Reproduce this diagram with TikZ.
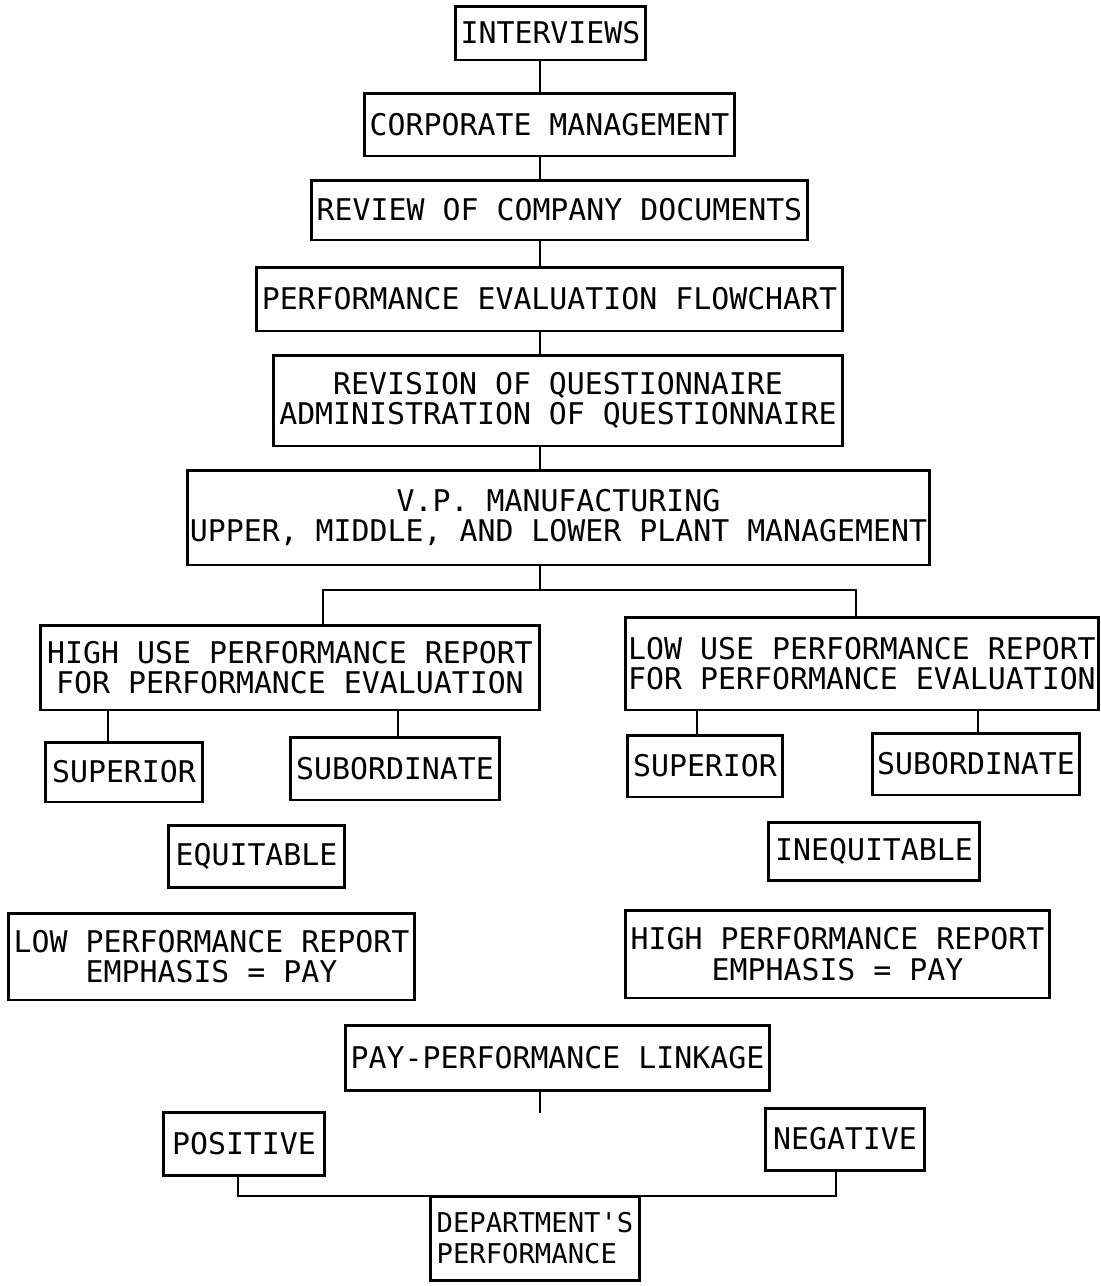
\documentclass[tikz,border=0pt]{standalone}
\usepackage{fontspec}
\setmonofont{DejaVu Sans Mono}
\begin{document}
\begin{tikzpicture}[x=0.02cm, y=-0.02cm,
    blk/.style={draw, line width=1.7pt, inner sep=0pt, align=center,
        font=\ttfamily\fontsize{17}{17.5}\selectfont},
    wire/.style={line width=1.4pt}]
\useasboundingbox (0,0) rectangle (1100,1286);
% spine of the chart
\coordinate (sp) at (540,0);
\node[blk, minimum width=3.82cm, minimum height=1.08cm] (intv) at (550.5,33) {INTERVIEWS};
\node[blk, minimum width=7.42cm, minimum height=1.26cm] (corp) at (549.5,124.5) {CORPORATE MANAGEMENT};
\node[blk, minimum width=9.94cm, minimum height=1.2cm] (docs) at (559.5,210) {REVIEW OF COMPANY DOCUMENTS};
\node[blk, minimum width=11.74cm, minimum height=1.28cm] (flow) at (549.5,299) {PERFORMANCE EVALUATION FLOWCHART};
\node[blk, minimum width=11.4cm, minimum height=1.82cm] (quest) at (558,400.5) {REVISION OF QUESTIONNAIRE\\ADMINISTRATION OF QUESTIONNAIRE};
\node[blk, minimum width=14.86cm, minimum height=1.9cm] (vp) at (558.5,517.5) {V.P. MANUFACTURING\\UPPER, MIDDLE, AND LOWER PLANT MANAGEMENT};
% two branches
\node[blk, minimum width=10cm, minimum height=1.7cm] (hiuse) at (290,667.5) {HIGH USE PERFORMANCE REPORT\\FOR PERFORMANCE EVALUATION};
\node[blk, minimum width=9.48cm, minimum height=1.86cm] (louse) at (862,663.5) {LOW USE PERFORMANCE REPORT\\FOR PERFORMANCE EVALUATION};
\node[blk, minimum width=3.16cm, minimum height=1.2cm] (supl) at (124,772) {SUPERIOR};
\node[blk, minimum width=4.2cm, minimum height=1.26cm] (subl) at (395,768.5) {SUBORDINATE};
\node[blk, minimum width=3.12cm, minimum height=1.24cm] (supr) at (705,766) {SUPERIOR};
\node[blk, minimum width=4.16cm, minimum height=1.24cm] (subr) at (976,764) {SUBORDINATE};
\node[blk, minimum width=3.54cm, minimum height=1.24cm] (equ) at (256.5,856) {EQUITABLE};
\node[blk, minimum width=4.24cm, minimum height=1.16cm] (inequ) at (874,851) {INEQUITABLE};
\node[blk, minimum width=8.14cm, minimum height=1.74cm] (lopay) at (211.5,956.5) {LOW PERFORMANCE REPORT\\EMPHASIS = PAY};
\node[blk, minimum width=8.5cm, minimum height=1.76cm] (hipay) at (837.5,954) {HIGH PERFORMANCE REPORT\\EMPHASIS = PAY};
% outcome
\node[blk, minimum width=8.5cm, minimum height=1.3cm] (link) at (557.5,1057.5) {PAY-PERFORMANCE LINKAGE};
\node[blk, minimum width=3.24cm, minimum height=1.26cm] (pos) at (244,1143.5) {POSITIVE};
\node[blk, minimum width=3.2cm, minimum height=1.24cm] (neg) at (845,1139) {NEGATIVE};
\node[blk, minimum width=4.2cm, minimum height=1.68cm, align=left, font=\ttfamily\fontsize{15.5}{17.5}\selectfont] (dept) at (535,1238) {DEPARTMENT'S\\PERFORMANCE};
\coordinate (fork) at (540,590);
\coordinate (linkend) at (540,1113);
\coordinate (join) at (540,1196);
% connectors
\draw[wire] (intv.south-|sp) -- (corp.north-|sp);
\draw[wire] (corp.south-|sp) -- (docs.north-|sp);
\draw[wire] (docs.south-|sp) -- (flow.north-|sp);
\draw[wire] (flow.south-|sp) -- (quest.north-|sp);
\draw[wire] (quest.south-|sp) -- (vp.north-|sp);
\draw[wire] (vp.south-|sp) -- (fork);
\draw[wire] (hiuse.north-|323,0) |- (fork) -| (louse.north-|856,0);
\draw[wire] (hiuse.south-|108,0) -- (supl.north-|108,0);
\draw[wire] (hiuse.south-|398,0) -- (subl.north-|398,0);
\draw[wire] (louse.south-|697,0) -- (supr.north-|697,0);
\draw[wire] (louse.south-|978,0) -- (subr.north-|978,0);
\draw[wire] (link.south-|sp) -- (linkend);
\draw[wire] (pos.south-|238,0) |- (join) -| (neg.south-|836,0);
\end{tikzpicture}
\end{document}
